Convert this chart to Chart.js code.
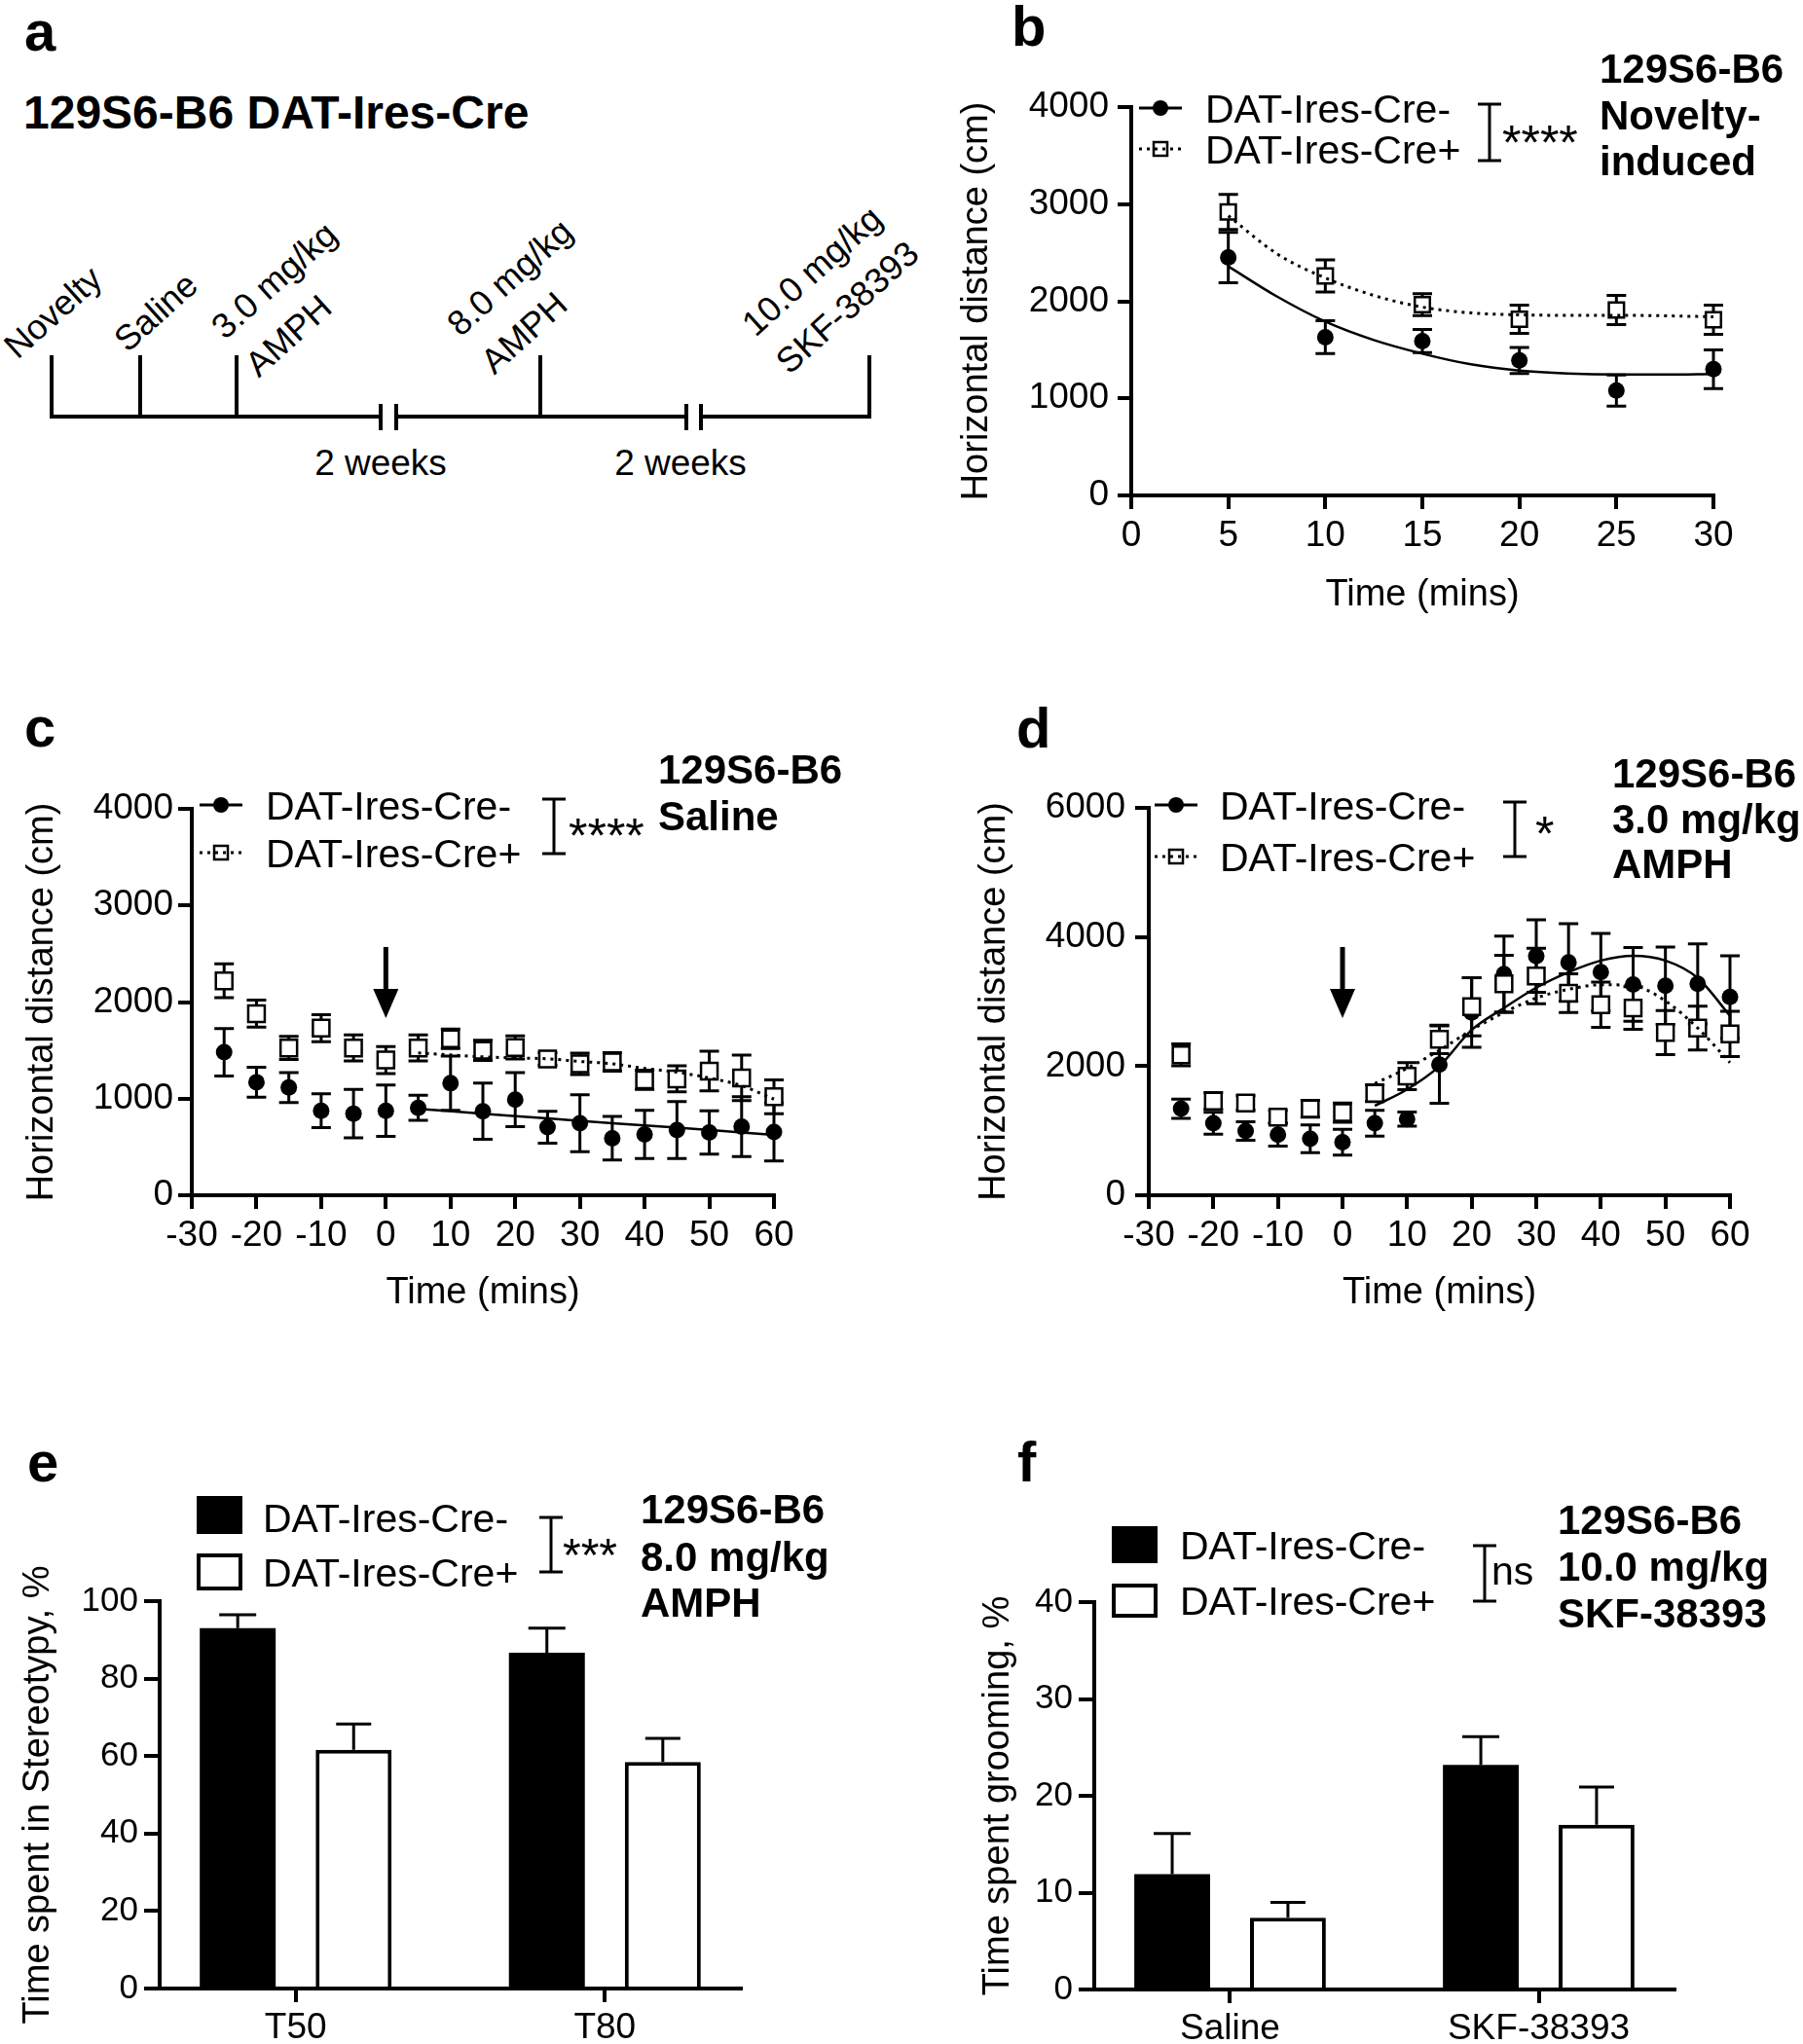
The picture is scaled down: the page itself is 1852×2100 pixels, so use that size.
<!DOCTYPE html>
<html>
<head>
<meta charset="utf-8">
<script src="https://cdn.jsdelivr.net/npm/chart.js@4.4.1/dist/chart.umd.min.js"></script>
<style>
  html, body { margin: 0; padding: 0; background: #fff; }
  #page { position: relative; width: 1852px; height: 2100px; overflow: hidden; background: #fff; }
  #page canvas { position: absolute; }
  #overlay { position: absolute; left: 0; top: 0; pointer-events: none; }
  #overlay text { font-family: "Liberation Sans", Arial, Helvetica, sans-serif; fill: #000; }
</style>
</head>
<body>
<div id="page">
<svg id="overlay" width="1852" height="2100" viewBox="0 0 1852 2100">
  <!-- panel letters -->
  <text x="25" y="52" font-size="58" font-weight="bold">a</text>
  <text x="1039" y="47" font-size="58" font-weight="bold">b</text>
  <text x="25" y="767" font-size="58" font-weight="bold">c</text>
  <text x="1044" y="768" font-size="58" font-weight="bold">d</text>
  <text x="28" y="1522" font-size="58" font-weight="bold">e</text>
  <text x="1045" y="1522" font-size="58" font-weight="bold">f</text>

  <!-- panel a: timeline -->
  <text x="24" y="132" font-size="48" font-weight="bold">129S6-B6 DAT-Ires-Cre</text>
  <g stroke="#000" stroke-width="4" fill="none">
    <line x1="51" y1="428" x2="391" y2="428"/>
    <line x1="407" y1="428" x2="705" y2="428"/>
    <line x1="720" y1="428" x2="895" y2="428"/>
    <line x1="53" y1="365" x2="53" y2="430"/>
    <line x1="144" y1="365" x2="144" y2="430"/>
    <line x1="243" y1="365" x2="243" y2="430"/>
    <line x1="555" y1="365" x2="555" y2="430"/>
    <line x1="893" y1="365" x2="893" y2="430"/>
    <line x1="391" y1="415" x2="391" y2="442"/>
    <line x1="407" y1="415" x2="407" y2="442"/>
    <line x1="705" y1="415" x2="705" y2="442"/>
    <line x1="720" y1="415" x2="720" y2="442"/>
  </g>
  <text font-size="36" transform="translate(18,370) rotate(-42)">Novelty</text>
  <text font-size="36" transform="translate(131,363) rotate(-42)">Saline</text>
  <text font-size="36" transform="translate(231,350) rotate(-42)"><tspan x="0" y="0">3.0 mg/kg</tspan><tspan x="0" dy="52">AMPH</tspan></text>
  <text font-size="36" transform="translate(473,347) rotate(-42)"><tspan x="0" y="0">8.0 mg/kg</tspan><tspan x="0" dy="52">AMPH</tspan></text>
  <text font-size="36" transform="translate(776,347) rotate(-42)"><tspan x="0" y="0">10.0 mg/kg</tspan><tspan x="0" dy="52">SKF-38393</tspan></text>
  <text x="391" y="488" font-size="37" text-anchor="middle">2 weeks</text>
  <text x="699" y="488" font-size="37" text-anchor="middle">2 weeks</text>
</svg>
</div>

<script>
const FONT = '"Liberation Sans", Arial, Helvetica, sans-serif';
Chart.defaults.font.family = FONT;
Chart.defaults.color = '#000';
Chart.defaults.animation = false;

// ---- b: novelty-induced ----
const bTime = [5, 10, 15, 20, 25, 30];
const bNeg = [2450, 1630, 1590, 1390, 1080, 1300];
const bNegErr = [260, 170, 120, 135, 160, 200];
const bPos = [2920, 2260, 1965, 1815, 1910, 1810];
const bPosErr = [180, 165, 112, 145, 150, 150];
const bFitTime = [5, 7.5, 10, 12.5, 15, 17.5, 20, 22.5, 25, 27.5, 30];
const bFitNeg = [2360, 2050, 1790, 1600, 1460, 1350, 1285, 1255, 1245, 1245, 1250];
const bFitPos = [2880, 2490, 2240, 2060, 1940, 1880, 1860, 1855, 1855, 1850, 1840];

// ---- c: saline ----
const cTime = [-25, -20, -15, -10, -5, 0, 5, 10, 15, 20, 25, 30, 35, 40, 45, 50, 55, 60];
const cNeg = [1480, 1170, 1115, 875, 845, 875, 905, 1160, 870, 990, 705, 745, 590, 630, 675, 650, 710, 655];
const cNegErr = [245, 155, 155, 175, 250, 265, 130, 280, 290, 280, 165, 295, 225, 250, 295, 225, 310, 300];
const cPos = [2220, 1880, 1525, 1730, 1525, 1400, 1525, 1620, 1500, 1530, 1410, 1360, 1380, 1195, 1205, 1285, 1215, 1020];
const cPosErr = [175, 140, 120, 140, 135, 140, 135, 100, 105, 120, 65, 110, 95, 100, 135, 205, 235, 175];
const cFitNegTime = [5, 15, 25, 35, 45, 55, 60];
const cFitNeg = [895, 845, 795, 745, 700, 650, 625];
const cFitPosTime = [5, 10, 15, 20, 25, 30, 35, 40, 45, 50, 55, 60];
const cFitPos = [1473, 1453, 1433, 1421, 1413, 1385, 1361, 1313, 1274, 1214, 1134, 995];

// ---- d: 3.0 mg/kg AMPH ----
const dTime = [-25, -20, -15, -10, -5, 0, 5, 10, 15, 20, 25, 30, 35, 40, 45, 50, 55, 60];
const dNeg = [1340, 1115, 995, 940, 875, 820, 1115, 1180, 2025, 2830, 3425, 3705, 3605, 3455, 3265, 3245, 3275, 3070];
const dNegErr = [150, 170, 145, 180, 215, 200, 200, 110, 600, 540, 590, 560, 600, 600, 570, 600, 620, 640];
const dPos = [2175, 1460, 1430, 1210, 1340, 1280, 1580, 1845, 2415, 2920, 3275, 3395, 3130, 2950, 2900, 2520, 2590, 2500];
const dPosErr = [170, 130, 110, 100, 130, 150, 130, 210, 220, 450, 440, 430, 300, 350, 330, 340, 340, 350];
const dFitTime = [5, 10, 15, 20, 25, 30, 35, 40, 45, 50, 55, 60];
const dFitNeg = [1385, 1640, 2000, 2560, 2900, 3215, 3455, 3635, 3710, 3635, 3365, 2780];
const dFitPos = [1730, 1965, 2245, 2560, 2830, 3055, 3190, 3260, 3245, 3010, 2590, 2055];

// ---- e: stereotypy ----
const eCats = ['T50', 'T80'];
const eNeg = [93.0, 86.7];
const eNegErr = [3.5, 6.3];
const ePos = [61.6, 58.5];
const ePosErr = [6.7, 6.1];

// ---- f: grooming ----
const fCats = ['Saline', 'SKF-38393'];
const fNeg = [11.9, 23.2];
const fNegErr = [4.2, 2.9];
const fPos = [7.4, 17.0];
const fPosErr = [1.6, 3.9];

const LEG_NEG = 'DAT-Ires-Cre-';
const LEG_POS = 'DAT-Ires-Cre+';

function placeCanvas(box) {
  const c = document.createElement('canvas');
  c.width = box.w;
  c.height = box.h;
  c.style.left = box.x + 'px';
  c.style.top = box.y + 'px';
  c.style.width = box.w + 'px';
  c.style.height = box.h + 'px';
  document.getElementById('page').appendChild(c);
  return c;
}

function toXY(xs, ys) {
  return xs.map((x, i) => ({ x: x, y: ys[i] }));
}

// error bars from the dataset's own errors array, through the y scale
const errorBars = {
  id: 'errorBars',
  beforeDatasetsDraw(chart) {
    const ctx = chart.ctx;
    const ys = chart.scales.y;
    chart.data.datasets.forEach((ds, i) => {
      if (!ds.errors) return;
      const meta = chart.getDatasetMeta(i);
      ctx.save();
      ctx.strokeStyle = '#000';
      ctx.lineWidth = ds.errWidth || 3;
      meta.data.forEach((el, j) => {
        const val = ds.data[j].y;
        const e = ds.errors[j];
        const top = ys.getPixelForValue(val + e);
        const bot = ds.errUp ? ys.getPixelForValue(val) : ys.getPixelForValue(val - e);
        const half = ds.errCap / 2;
        ctx.beginPath();
        ctx.moveTo(el.x, top); ctx.lineTo(el.x, bot);
        ctx.moveTo(el.x - half, top); ctx.lineTo(el.x + half, top);
        if (!ds.errUp) { ctx.moveTo(el.x - half, bot); ctx.lineTo(el.x + half, bot); }
        ctx.stroke();
      });
      ctx.restore();
    });
  }
};

// legend, bracket, stars, condition label, arrow
function annotations(p) {
  return {
    id: 'annot',
    afterDraw(chart) {
      const ctx = chart.ctx;
      const ox = p.box.x, oy = p.box.y;
      ctx.save();
      ctx.fillStyle = '#000';
      ctx.strokeStyle = '#000';

      // legend rows
      p.legend.forEach(row => {
        const y = row.y - oy;
        if (row.marker === 'lineCircle' || row.marker === 'lineSquare') {
          const mx = row.mx - ox;
          if (row.marker === 'lineSquare') {
            ctx.setLineDash([]);
            ctx.fillStyle = '#fff';
            ctx.fillRect(mx - 7, y - 7, 14, 14);
            ctx.lineWidth = 2.5;
            ctx.strokeRect(mx - 7, y - 7, 14, 14);
            ctx.fillStyle = '#000';
            ctx.setLineDash([3, 5]);
          }
          ctx.lineWidth = 3;
          ctx.beginPath();
          ctx.moveTo(mx - 22, y); ctx.lineTo(mx + 22, y);
          ctx.stroke();
          ctx.setLineDash([]);
          if (row.marker === 'lineCircle') {
            ctx.beginPath();
            ctx.arc(mx, y, 8, 0, Math.PI * 2);
            ctx.fill();
          }
        } else {
          const bx = row.bx - ox, by = row.by - oy;
          if (row.marker === 'boxFilled') {
            ctx.fillRect(bx, by, row.bw, row.bh);
          } else {
            ctx.lineWidth = 4;
            ctx.strokeRect(bx + 2, by + 2, row.bw - 4, row.bh - 4);
          }
        }
        ctx.font = '41px ' + FONT;
        ctx.textBaseline = 'alphabetic';
        ctx.fillText(row.text, row.tx - ox, y + 15);
      });

      // significance bracket
      const b = p.bracket;
      ctx.lineWidth = 3;
      ctx.beginPath();
      ctx.moveTo(b.x - ox, b.y1 - oy); ctx.lineTo(b.x - ox, b.y2 - oy);
      ctx.moveTo(b.x - 12 - ox, b.y1 - oy); ctx.lineTo(b.x + 12 - ox, b.y1 - oy);
      ctx.moveTo(b.x - 12 - ox, b.y2 - oy); ctx.lineTo(b.x + 12 - ox, b.y2 - oy);
      ctx.stroke();
      ctx.font = p.sig.size + 'px ' + FONT;
      ctx.fillText(p.sig.text, p.sig.x - ox, p.sig.base - oy);

      // condition label
      ctx.font = 'bold 42px ' + FONT;
      p.label.lines.forEach((t, i) => ctx.fillText(t, p.label.x - ox, p.label.base[i] - oy));

      // injection arrow at time 0
      if (p.arrow) {
        const xs = chart.scales.x, ys = chart.scales.y;
        const ax = xs.getPixelForValue(p.arrow.x);
        const top = ys.getPixelForValue(p.arrow.top);
        const tip = ys.getPixelForValue(p.arrow.tip);
        ctx.lineWidth = 5;
        ctx.beginPath();
        ctx.moveTo(ax, top); ctx.lineTo(ax, tip - 20);
        ctx.stroke();
        ctx.beginPath();
        ctx.moveTo(ax - 13, tip - 30); ctx.lineTo(ax + 13, tip - 30); ctx.lineTo(ax, tip);
        ctx.closePath();
        ctx.fill();
      }
      ctx.restore();
    }
  };
}

function axisStyle(tickLen, tickPad, size) {
  return {
    grid: { drawOnChartArea: false, drawTicks: true, tickLength: tickLen, tickWidth: 4, tickColor: '#000', color: '#000', lineWidth: 4, offset: false },
    border: { display: true, color: '#000', width: 4 },
    ticks: { color: '#000', font: { size: size }, padding: tickPad, maxRotation: 0, autoSkip: false }
  };
}

function buildOptions(p) {
  const lh = 38 * 1.2;
  const ya = axisStyle(p.yTick[0], p.yTick[1], p.yTickSize || 37);
  const xa = axisStyle(p.xTick[0], p.xTick[1], 37);
  const x = Object.assign({}, xa, {
    type: 'linear', min: p.xMin, max: p.xMax, offset: false, z: 1,
    afterFit: s => { s.height = p.box.y + p.box.h - p.area.b; },
    title: p.xTitle
      ? { display: true, text: p.xTitle, color: '#000', font: { size: 38 }, padding: { top: 0, bottom: p.box.y + p.box.h - p.xTitleY - lh / 2 } }
      : { display: false }
  });
  x.ticks = Object.assign({}, xa.ticks);
  if (p.xStep) x.ticks.stepSize = p.xStep;
  if (p.xCats) {
    x.afterBuildTicks = s => { s.ticks = p.xCats.map((c, i) => ({ value: i })); };
    x.ticks.callback = (v) => p.xCats[v];
  }
  const y = Object.assign({}, ya, {
    type: 'linear', min: 0, max: p.yMax,
    afterFit: s => { s.width = p.area.l - p.box.x; },
    title: { display: true, text: p.yTitle, color: '#000', font: { size: 38 }, padding: { top: p.yTitleX - p.box.x - lh / 2, bottom: 0 } }
  });
  y.ticks = Object.assign({}, ya.ticks, { stepSize: p.yStep, callback: v => String(v) });
  return {
    responsive: false,
    animation: false,
    devicePixelRatio: 1,
    layout: { padding: { left: 0, top: p.area.t - p.box.y, right: p.box.x + p.box.w - p.area.r, bottom: 0 } },
    plugins: { legend: { display: false }, tooltip: { enabled: false }, title: { display: false } },
    scales: { x: x, y: y }
  };
}

function timeChart(p) {
  const canvas = placeCanvas(p.box);
  return new Chart(canvas, {
    type: 'scatter',
    data: {
      datasets: [
        { data: toXY(p.fitPosX, p.fitPos), showLine: true, borderColor: '#000', borderWidth: 3, borderDash: [3, 5], pointRadius: 0, cubicInterpolationMode: 'monotone', clip: false },
        { data: toXY(p.fitNegX, p.fitNeg), showLine: true, borderColor: '#000', borderWidth: 2.5, pointRadius: 0, cubicInterpolationMode: 'monotone', clip: false },
        { data: toXY(p.time, p.pos), errors: p.posErr, errCap: 20, pointStyle: 'rect', pointRadius: p.sq, backgroundColor: '#fff', borderColor: '#000', borderWidth: 2.5, clip: false },
        { data: toXY(p.time, p.neg), errors: p.negErr, errCap: 20, pointStyle: 'circle', pointRadius: 8.5, backgroundColor: '#000', borderColor: '#000', borderWidth: 0, clip: false }
      ]
    },
    options: buildOptions(p),
    plugins: [errorBars, annotations(p)]
  });
}

function barChart(p) {
  const canvas = placeCanvas(p.box);
  const idx = p.xCats.map((c, i) => i);
  return new Chart(canvas, {
    type: 'bar',
    data: {
      datasets: [
        { data: toXY(idx, p.neg), errors: p.negErr, errUp: true, errCap: 38, backgroundColor: '#000', borderColor: '#000', borderWidth: 0, categoryPercentage: 0.75, barPercentage: 0.655 },
        { data: toXY(idx, p.pos), errors: p.posErr, errUp: true, errCap: 36, backgroundColor: '#fff', borderColor: '#000', borderWidth: 4, borderSkipped: 'start', categoryPercentage: 0.75, barPercentage: 0.655 }
      ]
    },
    options: buildOptions(p),
    plugins: [errorBars, annotations(p)]
  });
}

// b
timeChart({
  box: { x: 930, y: 0, w: 922, h: 640 },
  area: { l: 1162, t: 110, r: 1760, b: 509 },
  xMin: 0, xMax: 30, xStep: 5, yMax: 4000, yStep: 1000,
  yTick: [14, 9], xTick: [14, 6],
  yTitle: 'Horizontal distance (cm)', yTitleX: 1004,
  xTitle: 'Time (mins)', xTitleY: 612,
  time: bTime, neg: bNeg, negErr: bNegErr, pos: bPos, posErr: bPosErr, sq: 11,
  fitNegX: bFitTime, fitNeg: bFitNeg, fitPosX: bFitTime, fitPos: bFitPos,
  legend: [
    { marker: 'lineCircle', mx: 1192, y: 111, tx: 1238, text: LEG_NEG },
    { marker: 'lineSquare', mx: 1192, y: 153, tx: 1238, text: LEG_POS }
  ],
  bracket: { x: 1530, y1: 107, y2: 165 },
  sig: { text: '****', x: 1543, base: 164, size: 50 },
  label: { x: 1643, lines: ['129S6-B6', 'Novelty-', 'induced'], base: [85, 133, 180] }
});

// c
timeChart({
  box: { x: 0, y: 700, w: 930, h: 700 },
  area: { l: 197, t: 831, r: 795, b: 1228 },
  xMin: -30, xMax: 60, xStep: 10, yMax: 4000, yStep: 1000,
  yTick: [14, 5], xTick: [14, 6],
  yTitle: 'Horizontal distance (cm)', yTitleX: 44,
  xTitle: 'Time (mins)', xTitleY: 1329,
  time: cTime, neg: cNeg, negErr: cNegErr, pos: cPos, posErr: cPosErr, sq: 12,
  fitNegX: cFitNegTime, fitNeg: cFitNeg, fitPosX: cFitPosTime, fitPos: cFitPos,
  legend: [
    { marker: 'lineCircle', mx: 227, y: 827, tx: 273, text: LEG_NEG },
    { marker: 'lineSquare', mx: 227, y: 876, tx: 273, text: LEG_POS }
  ],
  bracket: { x: 569, y1: 821, y2: 877 },
  sig: { text: '****', x: 584, base: 876, size: 50 },
  label: { x: 676, lines: ['129S6-B6', 'Saline'], base: [805, 853] },
  arrow: { x: 0, top: 2570, tip: 1835 }
});

// d
timeChart({
  box: { x: 930, y: 700, w: 922, h: 700 },
  area: { l: 1180, t: 830, r: 1777, b: 1228 },
  xMin: -30, xMax: 60, xStep: 10, yMax: 6000, yStep: 2000,
  yTick: [14, 10], xTick: [14, 6],
  yTitle: 'Horizontal distance (cm)', yTitleX: 1022,
  xTitle: 'Time (mins)', xTitleY: 1329,
  time: dTime, neg: dNeg, negErr: dNegErr, pos: dPos, posErr: dPosErr, sq: 12,
  fitNegX: dFitTime, fitNeg: dFitNeg, fitPosX: dFitTime, fitPos: dFitPos,
  legend: [
    { marker: 'lineCircle', mx: 1208, y: 827, tx: 1253, text: LEG_NEG },
    { marker: 'lineSquare', mx: 1208, y: 880, tx: 1253, text: LEG_POS }
  ],
  bracket: { x: 1556, y1: 824, y2: 880 },
  sig: { text: '*', x: 1577, base: 874, size: 50 },
  label: { x: 1656, lines: ['129S6-B6', '3.0 mg/kg', 'AMPH'], base: [809, 856, 902] },
  arrow: { x: 0, top: 3845, tip: 2745 }
});

// e
barChart({
  box: { x: 0, y: 1400, w: 930, h: 700 },
  area: { l: 164, t: 1645, r: 761, b: 2043 },
  xMin: -0.44, xMax: 1.44, xCats: eCats, yMax: 100, yStep: 20,
  yTick: [16, 6], yTickSize: 35, xTick: [14, 5],
  yTitle: 'Time spent in Stereotypy, %', yTitleX: 40,
  neg: eNeg, negErr: eNegErr, pos: ePos, posErr: ePosErr,
  legend: [
    { marker: 'boxFilled', bx: 202, by: 1537, bw: 47, bh: 39, y: 1559, tx: 270, text: LEG_NEG },
    { marker: 'boxOpen', bx: 202, by: 1596, bw: 47, bh: 38, y: 1615, tx: 270, text: LEG_POS }
  ],
  bracket: { x: 566, y1: 1559, y2: 1615 },
  sig: { text: '***', x: 578, base: 1614, size: 48 },
  label: { x: 658, lines: ['129S6-B6', '8.0 mg/kg', 'AMPH'], base: [1565, 1614, 1661] }
});

// f
barChart({
  box: { x: 930, y: 1400, w: 922, h: 700 },
  area: { l: 1124, t: 1646, r: 1720, b: 2044 },
  xMin: -0.44, xMax: 1.44, xCats: fCats, yMax: 40, yStep: 10,
  yTick: [16, 6], yTickSize: 35, xTick: [14, 5],
  yTitle: 'Time spent grooming, %', yTitleX: 1026,
  neg: fNeg, negErr: fNegErr, pos: fPos, posErr: fPosErr,
  legend: [
    { marker: 'boxFilled', bx: 1142, by: 1568, bw: 47, bh: 38, y: 1587, tx: 1212, text: LEG_NEG },
    { marker: 'boxOpen', bx: 1142, by: 1627, bw: 47, bh: 35, y: 1644, tx: 1212, text: LEG_POS }
  ],
  bracket: { x: 1525, y1: 1588, y2: 1645 },
  sig: { text: 'ns', x: 1532, base: 1628, size: 41 },
  label: { x: 1600, lines: ['129S6-B6', '10.0 mg/kg', 'SKF-38393'], base: [1576, 1624, 1672] }
});
</script>
</body>
</html>
